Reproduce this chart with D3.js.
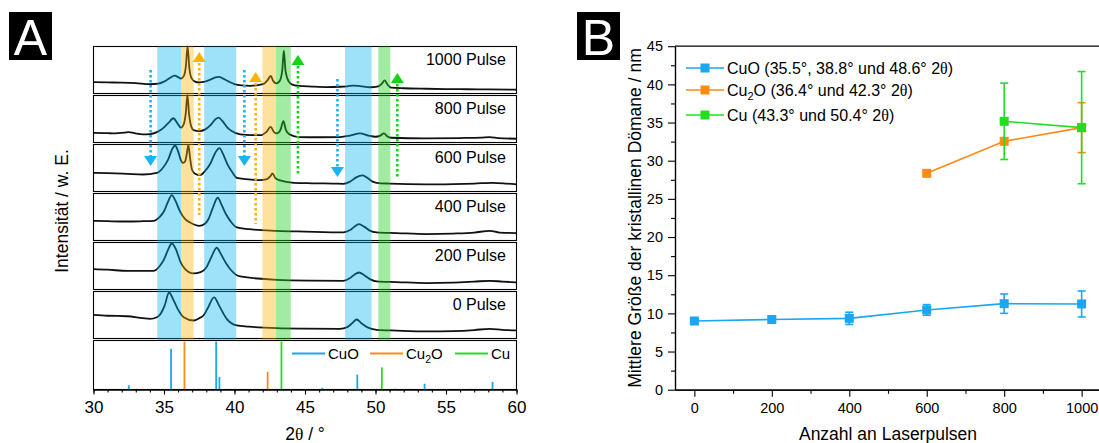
<!DOCTYPE html>
<html>
<head>
<meta charset="utf-8">
<script src="https://cdn.jsdelivr.net/npm/d3@7"></script>
<style>
  body { margin: 0; background: #fff; }
  svg { display: block; font-family: "Liberation Sans", Arial, sans-serif; }
</style>
</head>
<body>
<div id="chart"></div>
<script>
// ---- Panel A: XRD patterns, [2theta, intensity (a.u.)] ----
const pulseLabels = ["1000 Pulse", "800 Pulse", "600 Pulse", "400 Pulse", "200 Pulse", "0 Pulse"];

const xrd1000 = [[30, 11], [31, 10.7], [32, 10.5], [33, 10], [34, 9], [34.6, 9.5], [35.0, 11.5], [35.4, 15], [35.75, 17.5], [36.0, 16], [36.2, 14.5], [36.4, 17], [36.55, 27], [36.67, 47], [36.8, 25], [36.95, 15], [37.2, 11.5], [37.5, 10.7], [37.9, 11.5], [38.3, 13.5], [38.65, 15.8], [38.9, 16.3], [39.2, 14.5], [39.6, 11.5], [40.0, 9], [40.5, 7.7], [41.1, 7.3], [41.7, 8], [42.1, 9.5], [42.35, 13], [42.57, 17.3], [42.75, 12], [42.95, 9.8], [43.2, 12], [43.38, 22], [43.5, 42.7], [43.62, 22], [43.85, 11.5], [44.1, 8.5], [44.5, 7.3], [45.5, 6.5], [46.5, 6], [47.5, 6.3], [48.0, 6.8], [48.4, 7.5], [48.9, 7], [49.6, 5.8], [50.2, 6.8], [50.45, 9.5], [50.65, 12.7], [50.85, 8.5], [51.1, 5.5], [52, 4.8], [53.6, 4.3], [55, 4], [56.5, 3.8], [58, 3.6], [60, 3.3]];
const xrd800 = [[30, 9.3], [31, 9], [31.4, 8.7], [32.2, 9.5], [32.5, 10], [32.9, 9], [33.5, 7.8], [34.0, 8], [34.5, 10], [34.9, 13.5], [35.3, 19], [35.67, 24], [35.95, 19], [36.2, 14.5], [36.4, 18], [36.55, 30], [36.66, 47.5], [36.78, 28], [36.95, 15], [37.1, 12], [37.5, 11], [37.9, 12.5], [38.3, 17], [38.65, 23], [38.88, 24.7], [39.15, 21], [39.5, 14.5], [39.8, 11], [40.4, 7.7], [41.2, 7], [41.9, 7], [42.25, 10], [42.57, 15.3], [42.8, 10], [43.0, 8.7], [43.25, 12], [43.47, 21], [43.65, 12], [43.9, 7.7], [44.6, 5], [46, 4.8], [47.5, 5], [48.2, 6.5], [48.9, 8.7], [49.5, 6.5], [50.0, 5.3], [50.35, 6.5], [50.6, 8.7], [50.85, 5.5], [51.1, 4.3], [53.6, 3.7], [56, 4], [57.5, 4.5], [58.1, 5], [58.7, 4], [60, 3.3]];
const xrd600 = [[30, 18.3], [31, 18], [32.4, 17.3], [33.5, 16.7], [34.5, 18.3], [34.9, 23], [35.3, 32], [35.6, 43], [35.79, 46], [36.0, 40], [36.2, 31], [36.35, 28.3], [36.5, 30], [36.62, 38], [36.73, 46.7], [36.85, 33], [37.0, 21], [37.2, 17.5], [37.56, 16], [37.9, 20], [38.3, 28], [38.65, 39], [38.93, 43.3], [39.2, 37], [39.5, 27], [39.8, 20], [40.16, 13.3], [40.8, 12], [41.8, 11], [42.3, 12], [42.55, 15], [42.69, 17.7], [42.9, 13], [43.23, 10.7], [44.2, 8.3], [45.5, 7.8], [47.0, 7.5], [47.72, 7.3], [48.2, 9.5], [48.6, 13.5], [49.09, 15.7], [49.45, 13], [49.8, 9.5], [50.08, 8.3], [51, 7.5], [53.6, 6.7], [55.5, 7], [57, 7.5], [58.3, 8.3], [59.3, 7.5], [60, 6.7]];
const xrd400 = [[30, 19.3], [31, 19], [32.4, 18.7], [33.5, 19], [34.25, 19.3], [34.7, 23.3], [35.0, 29], [35.3, 39], [35.55, 45.3], [35.8, 40], [36.1, 30], [36.5, 21], [36.85, 17.7], [37.5, 14.3], [37.9, 16.5], [38.15, 21], [38.45, 32], [38.81, 42.7], [39.1, 35], [39.4, 26], [39.7, 19.3], [40.16, 12.7], [41, 11], [43, 9.3], [45, 8.5], [47.72, 7.7], [48.2, 10], [48.5, 13.5], [48.83, 16], [49.2, 13.5], [49.6, 9.5], [50.08, 7.7], [51.5, 7], [53.6, 6], [55.5, 6.5], [57, 7.5], [58.1, 9.3], [58.8, 7.5], [60, 7]];
const xrd200 = [[30, 20], [31, 19.5], [32.4, 18.3], [34.25, 18.3], [34.7, 23.3], [35.0, 30], [35.3, 40], [35.55, 46], [35.85, 40], [36.15, 28], [36.5, 20], [37.09, 15.7], [37.6, 17], [38.0, 21.7], [38.35, 32], [38.74, 41.7], [39.05, 35], [39.4, 26], [39.7, 20], [40.4, 12.7], [43, 9.3], [45.5, 8.5], [47.72, 8.3], [48.2, 11], [48.5, 14.5], [48.83, 16.7], [49.2, 14], [49.6, 10], [50.08, 7.7], [51.5, 7], [53.6, 6], [55.5, 6.5], [57, 7.5], [58.1, 8.3], [59, 7.5], [60, 6.7]];
const xrd0 = [[30, 23.3], [31, 22.5], [32.4, 22], [33.5, 20], [34.0, 19.3], [34.5, 21], [34.8, 25.3], [35.05, 33], [35.36, 46], [35.65, 39], [35.95, 30], [36.4, 21], [37.09, 17.7], [37.5, 20], [37.8, 22.7], [38.1, 30], [38.55, 41], [38.9, 33], [39.2, 25], [39.45, 19.3], [40.16, 12.7], [41, 11.5], [43, 10], [45, 9.5], [47.48, 9.3], [48.0, 11], [48.35, 15], [48.66, 18.7], [49.0, 15], [49.4, 11], [50.08, 8.3], [51.5, 7.5], [53.6, 6.7], [55.5, 7], [57, 8], [58.1, 9.3], [59, 8.3], [60, 7.7]];
const spectra = [xrd1000, xrd800, xrd600, xrd400, xrd200, xrd0];

// reference patterns [2theta, relative intensity %]
const refCuO = [[32.5, 9], [35.5, 85], [38.7, 100], [38.93, 26], [46.23, 3.5], [48.71, 31], [51.38, 1.5], [53.48, 12], [56.7, 1.5], [58.3, 16]];
const refCu2O = [[36.45, 100], [42.35, 37], [52.5, 1.5]];
const refCu = [[43.33, 100], [50.45, 46]];

// highlighted 2theta ranges
const bandCuO = [[34.52, 36.22], [37.85, 40.12], [47.84, 49.72]];
const bandCu2O = [[36.22, 37.1], [41.98, 42.95]];
const bandCu = [[42.95, 43.99], [50.2, 51.05]];

// arrows: 2theta, phase, direction
const arrowTheta = [34.05, 40.7, 47.3, 37.5, 41.5, 44.5, 51.55];
const arrowPhase = ["CuO", "CuO", "CuO", "Cu2O", "Cu2O", "Cu", "Cu"];
const arrowDir = ["down", "down", "down", "up", "up", "up", "up"];

// ---- Panel B: crystallite size ----
const pulses = [0, 200, 400, 600, 800, 1000];
const sizeCuO = [9.0, 9.2, 9.35, 10.45, 11.27, 11.23];
const errCuO = [0.3, 0.4, 0.8, 0.7, 1.27, 1.7];
const pulsesCu2O = [600, 800, 1000];
const sizeCu2O = [28.35, 32.54, 34.33];
const errCu2O = [0, 0, 3.27];
const pulsesCu = [800, 1000];
const sizeCu = [35.16, 34.33];
const errCu = [5.0, 7.35];

const col = { CuO: "#1aa6f2", Cu2O: "#ff8a14", Cu: "#22dd22" };
const bandCol = { CuO: "#00b4f0", Cu2O: "#ffb000", Cu: "#22d022" };
const arrowCol = { CuO: "#18b4f5", Cu2O: "#ffb300", Cu: "#14d414" };

const svg = d3.select("#chart").append("svg").attr("width", 1099).attr("height", 443);

// ===================== Panel A =====================
const xA = d3.scaleLinear().domain([30, 60]).range([93.5, 516.5]);
const rowA = d3.scaleBand().domain(pulseLabels).range([46, 338]).paddingInner(2 / 49);
const stackBottom = 340;
const refTop = 340, refBottom = 389.5;

const gA = svg.append("g");

pulseLabels.forEach((lab, i) => {
  const top = Math.round(rowA(lab)), bot = top + Math.round(rowA.bandwidth());
  const y = d3.scaleLinear().domain([0, 47.5]).range([bot, top]);
  gA.append("rect")
    .attr("x", xA(30)).attr("y", top + 0.5)
    .attr("width", xA(60) - xA(30)).attr("height", bot - top)
    .attr("fill", "none").attr("stroke", "#000").attr("stroke-width", 1.1);
  gA.append("path")
    .datum(spectra[i])
    .attr("fill", "none").attr("stroke", "#111").attr("stroke-width", 1.8)
    .attr("stroke-linejoin", "round")
    .attr("d", d3.line().x(d => xA(d[0])).y(d => y(d[1])).curve(d3.curveMonotoneX));
  gA.append("text")
    .attr("x", 506).attr("y", top + 19)
    .attr("text-anchor", "end").style("font-size", "16px")
    .text(lab);
});

// shaded bands on top (translucent)
[["CuO", bandCuO], ["Cu2O", bandCu2O], ["Cu", bandCu]].forEach(([ph, bands]) => {
  gA.selectAll(".band-" + ph)
    .data(bands)
    .enter()
    .append("rect")
    .attr("x", d => xA(d[0]))
    .attr("width", d => xA(d[1]) - xA(d[0]))
    .attr("y", 46.5).attr("height", stackBottom - 46.5)
    .attr("fill", bandCol[ph]).attr("opacity", ph === "Cu" ? 0.42 : 0.38);
});

// dotted arrows (pixel spans are layout only)
const arrowSpan = [[70, 166], [70, 166], [79, 177], [52, 215], [72, 224], [55, 175], [73, 177]];
arrowTheta.forEach((t, i) => {
  const x = xA(t), c = arrowCol[arrowPhase[i]];
  const [y0, y1] = arrowSpan[i];
  const head = 10, hw = 6.5;
  if (arrowDir[i] === "down") {
    gA.append("line").attr("x1", x).attr("x2", x).attr("y1", y0).attr("y2", y1 - head)
      .attr("stroke", c).attr("stroke-width", 2.6).attr("stroke-dasharray", "2.6,2.4");
    gA.append("path").attr("d", `M${x - hw},${y1 - head}L${x + hw},${y1 - head}L${x},${y1}Z`).attr("fill", c);
  } else {
    gA.append("line").attr("x1", x).attr("x2", x).attr("y1", y0 + head + 1).attr("y2", y1)
      .attr("stroke", c).attr("stroke-width", 2.6).attr("stroke-dasharray", "2.6,2.4");
    gA.append("path").attr("d", `M${x - hw},${y0 + head}L${x + hw},${y0 + head}L${x},${y0}Z`).attr("fill", c);
  }
});

// reference row
gA.append("rect")
  .attr("x", xA(30)).attr("y", refTop + 0.5)
  .attr("width", xA(60) - xA(30)).attr("height", refBottom - refTop - 0.5)
  .attr("fill", "none").attr("stroke", "#000").attr("stroke-width", 1.1);
const yRef = d3.scaleLinear().domain([0, 100]).range([refBottom, refTop + 1.5]);
[["CuO", refCuO], ["Cu2O", refCu2O], ["Cu", refCu]].forEach(([ph, sticks]) => {
  gA.selectAll(".stick-" + ph)
    .data(sticks)
    .enter()
    .append("line")
    .attr("x1", d => xA(d[0])).attr("x2", d => xA(d[0]))
    .attr("y1", yRef(0)).attr("y2", d => yRef(d[1]))
    .attr("stroke", col[ph]).attr("stroke-width", 1.8);
});

// legend in reference row
const legA = [["CuO", 292], ["Cu2O", 370], ["Cu", 455]];
legA.forEach(([ph, x]) => {
  gA.append("line").attr("x1", x).attr("x2", x + 33).attr("y1", 353.5).attr("y2", 353.5)
    .attr("stroke", col[ph]).attr("stroke-width", 2);
  const t = gA.append("text").attr("x", x + 36).attr("y", 358.5).style("font-size", "15px");
  if (ph === "Cu2O") {
    t.append("tspan").text("Cu");
    t.append("tspan").attr("dy", 4).style("font-size", "10.5px").text("2");
    t.append("tspan").attr("dy", -4).text("O");
  } else t.text(ph);
});

// x axis A
const axA = gA.append("g").attr("transform", `translate(0,${refBottom})`);
axA.call(d3.axisBottom(xA).tickValues(d3.range(30, 61, 1)).tickSize(3).tickSizeOuter(0).tickFormat(""));
axA.append("g").call(d3.axisBottom(xA).tickValues(d3.range(30, 61, 5)).tickSize(5).tickPadding(6).tickSizeOuter(0));
axA.selectAll("path.domain").attr("stroke", "#000").attr("stroke-width", 1.2);
axA.selectAll("line").attr("stroke", "#000").attr("stroke-width", 1.1);
axA.selectAll("text").style("font-size", "17px").style("font-family", "'Liberation Sans', Arial, sans-serif").attr("fill", "#000");

const tA = gA.append("text").attr("x", 305).attr("y", 440).attr("text-anchor", "middle").style("font-size", "17.5px");
tA.append("tspan").text("2");
tA.append("tspan").style("font-family", "'Liberation Serif', serif").text("θ");
tA.append("tspan").text(" / °");

gA.append("text")
  .attr("transform", "translate(68,211) rotate(-90)")
  .attr("text-anchor", "middle").style("font-size", "17.5px")
  .text("Intensität / w. E.");

// panel letters
[["A", 9], ["B", 577]].forEach(([l, x]) => {
  svg.append("rect").attr("x", x).attr("y", 12).attr("width", 43).attr("height", 48).attr("fill", "#000");
  svg.append("text").attr("x", x + 21.5).attr("y", 55).attr("text-anchor", "middle")
    .attr("fill", "#fff").style("font-size", "50px").text(l);
});

// ===================== Panel B =====================
const xB = d3.scaleLinear().domain([-50, 1050]).range([675, 1101]);
const yB = d3.scaleLinear().domain([0, 45]).range([389.7, 46.2]);
const gB = svg.append("g");

gB.append("line").attr("x1", 675).attr("x2", 1101).attr("y1", yB(45)).attr("y2", yB(45))
  .attr("stroke", "#000").attr("stroke-width", 1.2);

const axBx = gB.append("g").attr("transform", `translate(0,${yB(0)})`);
axBx.call(d3.axisBottom(xB).tickValues([100, 300, 500, 700, 900]).tickSize(4).tickSizeOuter(0).tickFormat(""));
axBx.append("g").call(d3.axisBottom(xB).tickValues(d3.range(0, 1001, 200)).tickSize(7).tickPadding(6).tickSizeOuter(0).tickFormat(d3.format("d")));
const axBy = gB.append("g").attr("transform", `translate(${xB(-50)},0)`);
axBy.call(d3.axisLeft(yB).tickValues(d3.range(2.5, 45, 5)).tickSize(4).tickSizeOuter(0).tickFormat(""));
axBy.append("g").call(d3.axisLeft(yB).tickValues(d3.range(0, 46, 5)).tickSize(7).tickPadding(5).tickSizeOuter(0));
gB.selectAll("path.domain").attr("stroke", "#000").attr("stroke-width", 1.2);
gB.selectAll(".tick line").attr("stroke", "#000").attr("stroke-width", 1.1);
gB.selectAll(".tick text").style("font-size", "14.5px").style("font-family", "'Liberation Sans', Arial, sans-serif").attr("fill", "#000");

gB.append("text").attr("x", 888).attr("y", 440).attr("text-anchor", "middle")
  .style("font-size", "17.5px").text("Anzahl an Laserpulsen");
gB.append("text")
  .attr("transform", "translate(641,218) rotate(-90)")
  .attr("text-anchor", "middle").style("font-size", "17.5px")
  .text("Mittlere Größe der kristallinen Dömane / nm");

function drawSeries(xs, ys, es, c) {
  const pts = xs.map((x, i) => ({ x, y: ys[i], e: es[i] }));
  gB.append("path").datum(pts)
    .attr("fill", "none").attr("stroke", c).attr("stroke-width", 1.6)
    .attr("d", d3.line().x(d => xB(d.x)).y(d => yB(d.y)));
  const eb = gB.selectAll(null).data(pts.filter(d => d.e > 0)).enter().append("g")
    .attr("stroke", c).attr("stroke-width", 1.6);
  eb.append("line").attr("x1", d => xB(d.x)).attr("x2", d => xB(d.x))
    .attr("y1", d => yB(d.y - d.e)).attr("y2", d => yB(d.y + d.e));
  eb.append("line").attr("x1", d => xB(d.x) - 4).attr("x2", d => xB(d.x) + 4)
    .attr("y1", d => yB(d.y - d.e)).attr("y2", d => yB(d.y - d.e));
  eb.append("line").attr("x1", d => xB(d.x) - 4).attr("x2", d => xB(d.x) + 4)
    .attr("y1", d => yB(d.y + d.e)).attr("y2", d => yB(d.y + d.e));
  gB.selectAll(null).data(pts).enter().append("rect")
    .attr("x", d => xB(d.x) - 4.5).attr("y", d => yB(d.y) - 4.5)
    .attr("width", 9).attr("height", 9).attr("fill", c);
}
drawSeries(pulses, sizeCuO, errCuO, col.CuO);
drawSeries(pulsesCu2O, sizeCu2O, errCu2O, col.Cu2O);
drawSeries(pulsesCu, sizeCu, errCu, col.Cu);

// legend B
const legB = [["CuO", 68, "CuO (35.5°, 38.8° und 48.6° 2"], ["Cu2O", 90, " (36.4° und 42.3° 2"], ["Cu", 115, "Cu (43.3° und 50.4° 2"]];
legB.forEach(([ph, y, txt]) => {
  gB.append("line").attr("x1", 686).attr("x2", 724).attr("y1", y).attr("y2", y)
    .attr("stroke", col[ph]).attr("stroke-width", 1.6);
  gB.append("rect").attr("x", 700.5).attr("y", y - 4.5).attr("width", 9).attr("height", 9).attr("fill", col[ph]);
  const t = gB.append("text").attr("x", 727).attr("y", y + 5.5).style("font-size", "16px");
  if (ph === "Cu2O") {
    t.append("tspan").text("Cu");
    t.append("tspan").attr("dy", 4).style("font-size", "11px").text("2");
    t.append("tspan").attr("dy", -4).text("O" + txt);
  } else t.append("tspan").text(txt);
  t.append("tspan").style("font-family", "'Liberation Serif', serif").text("θ");
  t.append("tspan").text(")");
});
</script>
</body>
</html>
